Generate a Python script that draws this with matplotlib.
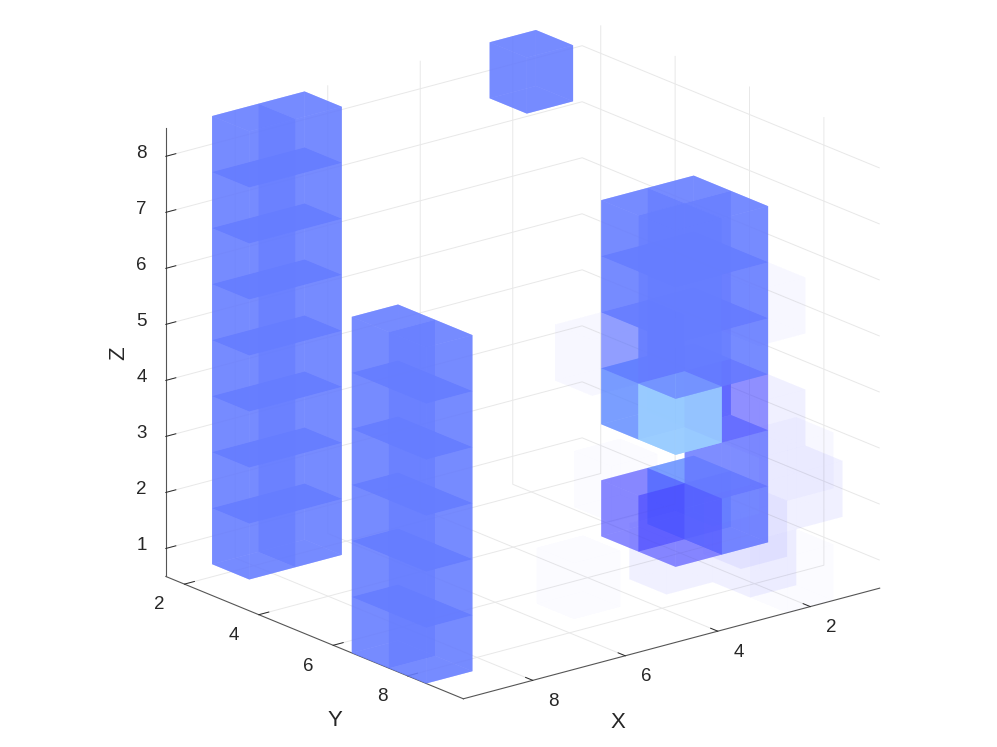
import matplotlib
matplotlib.use("Agg")
import matplotlib.pyplot as plt
from matplotlib.transforms import Affine2D
from mpl_toolkits.mplot3d.art3d import Poly3DCollection

plt.rcParams['font.family'] = ['Liberation Sans', 'DejaVu Sans']

# voxel data: position and intensity class
vox_x = [7,8]*8 + [9]*12 + [2] + [2,2,2,2,2, 1,1,1,1,1, 2,2,2,2,2, 1,1,1,1,1,1] + [3,1,1,2,1,2,3,3,5,5,2]
vox_y = [2,2]*8 + [7,8]*6 + [2] + [5,5,5,5,5, 5,5,5,5,5, 6,6,6,6,6, 6,6,6,6,6,6] + [5,7,7,9,8,8,9,7,7,8,9]
vox_z = [z for z in range(1,9) for _ in (0,1)] + [z for z in range(1,7) for _ in (0,1)] + [8] \
      + [6,5,4,3,1, 6,5,4,3,1, 6,5,4,3,1, 6,5,4,3,2,1] + [4,5,3,3,2,1,2,1,1,3,1]
vox_k = [0]*16 + [0]*12 + [0] \
      + [0,0,8,3,2, 0,0,0,0,3, 0,0,0,1,2, 0,0,0,9,4,0] + [5,5,6,5,6,6,6,6,7,7,7]
x_ticks = [2,4,6,8]
y_ticks = [2,4,6,8]
z_ticks = [1,2,3,4,5,6,7,8]

RGBA = {0:(0.40,0.49,1.0,0.67), 1:(0.60,0.80,1.0,0.85), 2:(0.28,0.28,1.0,0.40),
        3:(0.38,0.55,1.0,0.60), 4:(0.40,0.47,1.0,0.60),
        5:(0.45,0.45,1.0,0.022), 6:(0.45,0.45,1.0,0.05), 7:(0.45,0.45,1.0,0.012),
        8:(0.34,0.43,1.0,0.40), 9:(0.34,0.34,1.0,0.40)}

main = {(x,y,z) for x,y,z,k in zip(vox_x,vox_y,vox_z,vox_k) if k==0}

def faces(x,y,z):
    x0,x1,y0,y1,z0,z1 = x-.5,x+.5,y-.5,y+.5,z-.5,z+.5
    out = [[(x0,y0,z0),(x1,y0,z0),(x1,y1,z0),(x0,y1,z0)],
           [(x0,y0,z1),(x1,y0,z1),(x1,y1,z1),(x0,y1,z1)],
           [(x0,y0,z0),(x1,y0,z0),(x1,y0,z1),(x0,y0,z1)],
           [(x0,y0,z0),(x0,y1,z0),(x0,y1,z1),(x0,y0,z1)]]
    # side faces shared with a neighbour are drawn once
    if not ((x,y,z) in main and (x,y+1,z) in main):
        out.append([(x0,y1,z0),(x1,y1,z0),(x1,y1,z1),(x0,y1,z1)])
    if not ((x,y,z) in main and (x+1,y,z) in main):
        out.append([(x1,y0,z0),(x1,y1,z0),(x1,y1,z1),(x1,y0,z1)])
    return out

W,H = 997,747
fig = plt.figure(figsize=(W/100,H/100),dpi=100)
S = 833
cx,cy = 511.5,369.5
ax = fig.add_axes([(cx-S/2)/W,1-(cy+S/2)/H,S/W,S/H],projection='3d')
ax.set_proj_type('ortho')
ax.view_init(elev=19.3,azim=51.2)
ax.set_box_aspect((9,8,8),zoom=1.0)
ax.set_xlim(0.5,9.5); ax.set_ylim(1.5,9.5); ax.set_zlim(0.5,8.5)
ax.set_xticks(x_ticks); ax.set_yticks(y_ticks); ax.set_zticks(z_ticks)
ax.set_xticklabels([str(v) for v in x_ticks],ha='left')
ax.set_yticklabels([str(v) for v in y_ticks],ha='right')
ax.set_zticklabels([str(v) for v in z_ticks],va='bottom')
ax.patch.set_alpha(0)
for a in (ax.xaxis,ax.yaxis,ax.zaxis):
    a.set_pane_color((1,1,1,0))
    a.pane.set_edgecolor((1,1,1,0))
    a._axinfo['grid'].update(color='#e8e8e8',linewidth=0.7)
    a._axinfo['tick'].update(inward_factor=0,outward_factor=0.3,linewidth={True:0.7,False:0.5})
    a.line.set_color('#555555'); a.line.set_linewidth(0.8)
ax.tick_params(labelsize=13.5,colors='#262626',pad=0)

# nudge the tick labels (pixels; mplot3d resets transforms at draw, so pin them)
def nudge(axis,dx,dy):
    for t in axis.get_major_ticks():
        t.label1.set_transform(ax.transData+Affine2D().translate(dx,dy))
        t.label1.set_transform = lambda tr: None
nudge(ax.xaxis,8,2)
nudge(ax.yaxis,-9,2)
nudge(ax.zaxis,-6,-6)

fig.text(618/W,1-722/H,'X',fontsize=16,color='#262626',ha='center',va='center')
fig.text(335/W,1-720/H,'Y',fontsize=16,color='#262626',ha='center',va='center')
fig.text(119/W,1-353/H,'Z',fontsize=16,color='#262626',ha='center',va='center',rotation=90)

polys=[];cols=[]
for x,y,z,k in zip(vox_x,vox_y,vox_z,vox_k):
    for f in faces(x,y,z):
        polys.append(f); cols.append(RGBA[k])
pc = Poly3DCollection(polys,facecolors=cols,edgecolors='none',linewidths=0)
ax.add_collection3d(pc)
ax.set_xlim(0.5,9.5); ax.set_ylim(1.5,9.5); ax.set_zlim(0.5,8.5)
fig.savefig('out.png',dpi=100)
